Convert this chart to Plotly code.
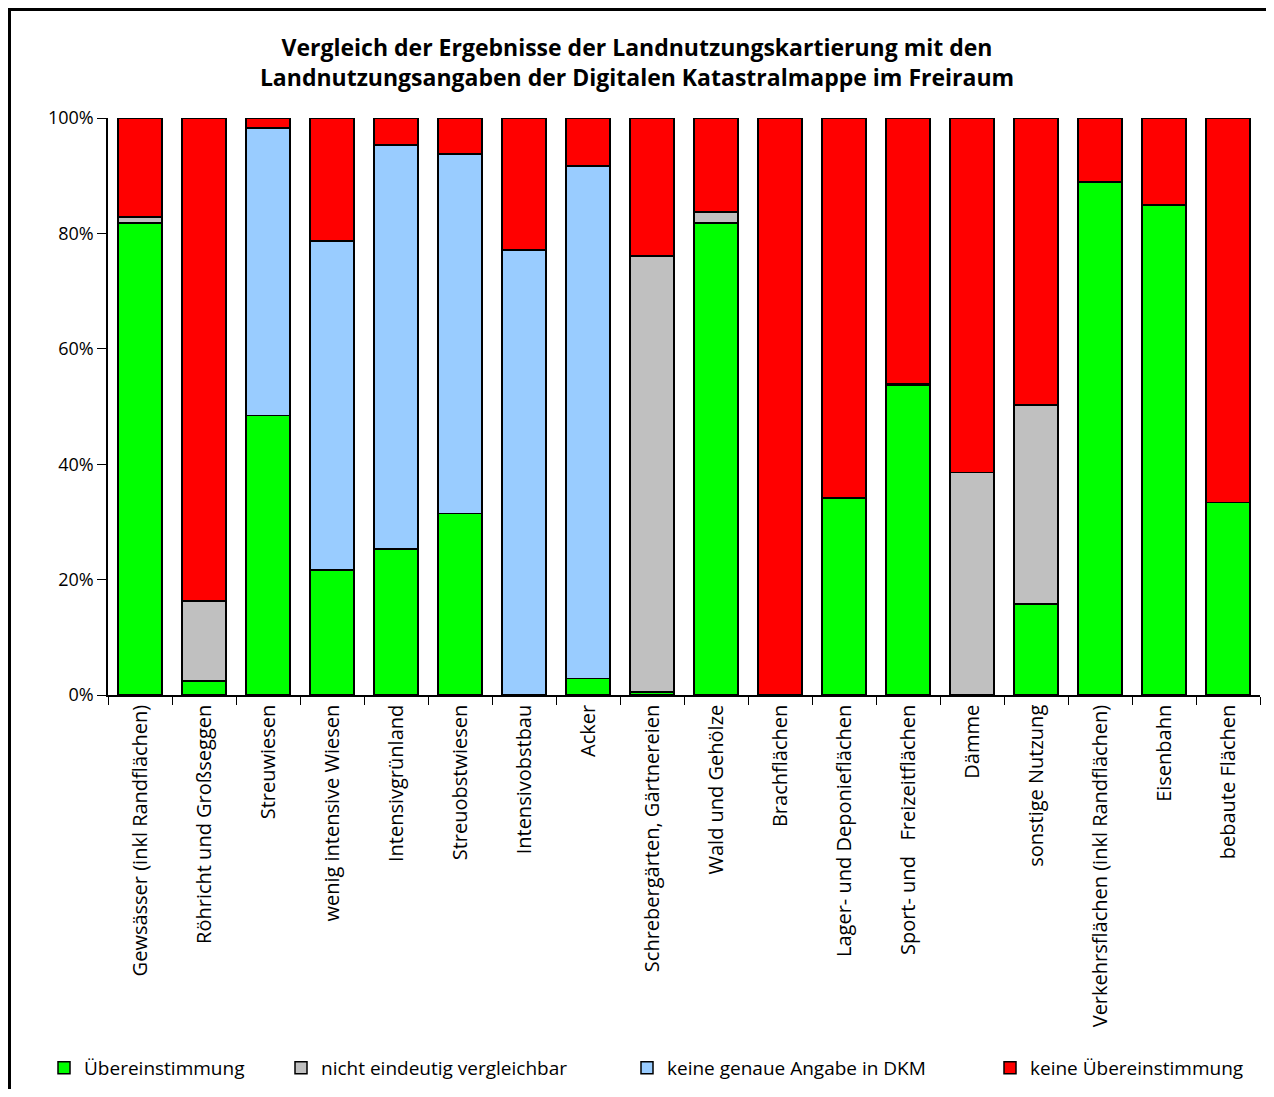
import plotly.graph_objects as go

categories = [
    "Gewsässer (inkl Randflächen)", "Röhricht und Großseggen", "Streuwiesen",
    "wenig intensive Wiesen", "Intensivgrünland", "Streuobstwiesen",
    "Intensivobstbau", "Acker", "Schrebergärten, Gärtnereien", "Wald und Gehölze",
    "Brachflächen", "Lager- und Deponieflächen", "Sport- und   Freizeitflächen",
    "Dämme", "sonstige Nutzung", "Verkehrsflächen (inkl Randflächen)",
    "Eisenbahn", "bebaute Flächen",
]
uebereinstimmung = [81.8, 2.4, 48.4, 21.7, 25.3, 31.5, 0.0, 2.9, 0.5, 81.8,
                    0.0, 34.1, 53.6, 0.0, 15.8, 88.9, 84.9, 33.4]
nicht_vergleichbar = [1.0, 13.9, 0.0, 0.0, 0.0, 0.0, 0.0, 0.0, 75.6, 1.9,
                      0.0, 0.0, 0.3, 38.6, 34.5, 0.0, 0.0, 0.0]
keine_angabe = [0.0, 0.0, 49.9, 57.0, 70.0, 62.3, 77.1, 88.8, 0.0, 0.0,
                0.0, 0.0, 0.0, 0.0, 0.0, 0.0, 0.0, 0.0]
keine_uebereinstimmung = [17.2, 83.7, 1.7, 21.3, 4.7, 6.2, 22.9, 8.3, 23.9, 16.3,
                          100.0, 65.9, 46.1, 61.4, 49.7, 11.1, 15.1, 66.6]

series = [
    ("Übereinstimmung", uebereinstimmung, "#00FF00", "legend"),
    ("nicht eindeutig vergleichbar", nicht_vergleichbar, "#C0C0C0", "legend2"),
    ("keine genaue Angabe in DKM", keine_angabe, "#99CCFF", "legend3"),
    ("keine Übereinstimmung", keine_uebereinstimmung, "#FF0000", "legend4"),
]

# page has an 8px body margin; figure coordinates = screen - 8
W, H = 1258, 1081
L, R, T, B = 100, 6, 110, 394
pw, ph = W - L - R, H - T - B

def px(x):
    return (x - L) / pw

def py(y):
    return (H - B - y) / ph

FONT = "Open Sans"

fig = go.Figure()
for name, vals, color, lg in series:
    fig.add_trace(go.Bar(
        x=categories, y=vals, name=name,
        marker=dict(color=color, line=dict(color="black", width=1.5)),
        legend=lg, showlegend=True,
    ))

legend_common = dict(orientation="h", yanchor="middle", xanchor="left",
                     xref="container", yref="container",
                     font=dict(family=FONT, size=19, color="black"),
                     bgcolor="rgba(0,0,0,0)", itemwidth=30, visible=True)
leg_x = [36, 273, 619, 982]
leg_y = 1 - 1060 / H

fig.update_layout(
    width=W, height=H,
    showlegend=True,
    barmode="stack", bargap=0.31,
    margin=dict(l=L, r=R, t=T, b=B),
    paper_bgcolor="white", plot_bgcolor="white",
    title=dict(
        text="<b>Vergleich der Ergebnisse der Landnutzungskartierung mit den<br>"
             "Landnutzungsangaben der Digitalen Katastralmappe im Freiraum</b>",
        x=0.5, xanchor="center", y=1 - 48 / H, yanchor="middle",
        font=dict(family=FONT, size=23, color="black"),
    ),
    xaxis=dict(
        tickangle=-90, tickson="boundaries", ticks="outside", ticklen=8,
        tickcolor="black", showline=True, linecolor="black", linewidth=1.5,
        tickfont=dict(family=FONT, size=20, color="black"),
        showgrid=False,
    ),
    yaxis=dict(
        range=[0, 100], tickvals=[0, 20, 40, 60, 80, 100],
        ticktext=["0%", "20%", "40%", "60%", "80%", "100%"],
        ticks="outside", ticklen=9, tickcolor="black",
        showline=True, linecolor="black", linewidth=1.5,
        tickfont=dict(family=FONT, size=18, color="black"),
        showgrid=False, zeroline=False,
    ),
    legend=dict(x=leg_x[0] / W, y=leg_y, **legend_common),
    legend2=dict(x=leg_x[1] / W, y=leg_y, **legend_common),
    legend3=dict(x=leg_x[2] / W, y=leg_y, **legend_common),
    legend4=dict(x=leg_x[3] / W, y=leg_y, **legend_common),
    shapes=[dict(type="rect", xref="paper", yref="paper",
                 x0=px(1.5), x1=px(W + 20), y0=py(H + 20), y1=py(1.5),
                 line=dict(color="black", width=3), layer="below")],
)

fig.write_html("out.html")
